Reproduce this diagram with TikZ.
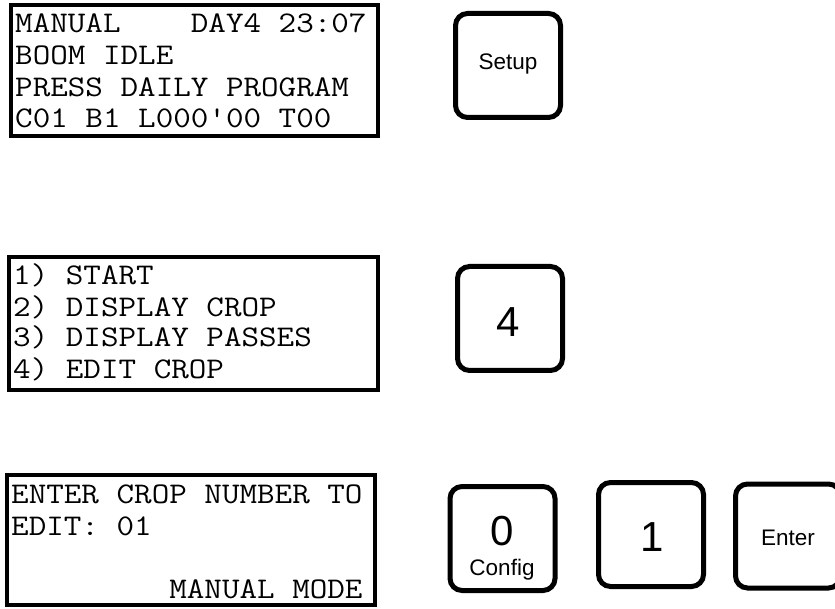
\documentclass[tikz,border=0pt]{standalone}
\usepackage{fontspec}
\newfontfamily\keyfont{Liberation Sans}
\begin{document}
\begin{tikzpicture}[x=1pt,y=-1pt,
  screen/.style={draw=black,line width=4pt,minimum width=#1,inner sep=0pt},
  lcd/.style={anchor=base west,inner sep=0pt,xscale=1.137,transform shape,font=\fontsize{30}{32}\ttfamily},
  key/.style={draw=black,line width=5pt,rounded corners=12pt,minimum width=105pt,minimum height=104pt,inner sep=0pt},
  small/.style={inner sep=0pt,font=\fontsize{22.5}{24}\keyfont},
  big/.style={inner sep=0pt,font=\fontsize{42}{44}\keyfont}]
\useasboundingbox (0,0) rectangle (835,609);
% screen 1
\node[screen=367pt,minimum height=131pt] (s1) at (194.5,70.5) {};
\node[lcd] (s1a) at (15,33) {MANUAL~~~~DAY4 23:07};
\node[lcd] (s1b) at (15,65) {BOOM IDLE};
\node[lcd] (s1c) at (15,97) {PRESS DAILY PROGRAM};
\node[lcd] (s1d) at (15,128) {C01 B1 L000'00 T00};
% screen 2
\node[screen=369pt,minimum height=133pt] (s2) at (193.5,323.5) {};
\node[lcd] (s2a) at (13,285) {1) START};
\node[lcd] (s2b) at (13,317) {2) DISPLAY CROP};
\node[lcd] (s2c) at (13,347) {3) DISPLAY PASSES};
\node[lcd] (s2d) at (13,378) {4) EDIT CROP};
% screen 3
\node[screen=368pt,minimum height=130pt] (s3) at (191,540) {};
\node[lcd] (s3a) at (11,503) {ENTER CROP NUMBER TO};
\node[lcd] (s3b) at (11,535) {EDIT: 01};
\node[lcd] (s3d) at (11,598) {~~~~~~~~~MANUAL MODE};
% keys
\node[key] (kset) at (508,65.5) {};
\node[small] (kset-t) at (508,64) {Setup};
\node[key] (k4) at (510,318.5) {};
\node[big] (k4-t) at (508,322.5) {4};
\node[key] (k0) at (502.5,538.5) {};
\node[big] (k0-t) at (502,531) {0};
\node[small,anchor=base] (k0-s) at (502,575) {Config};
\node[key] (k1) at (651,534.5) {};
\node[big] (k1-t) at (652,537) {1};
\node[key] (kent) at (788,536) {};
\node[small] (kent-t) at (788,538) {Enter};
\end{tikzpicture}
\end{document}
